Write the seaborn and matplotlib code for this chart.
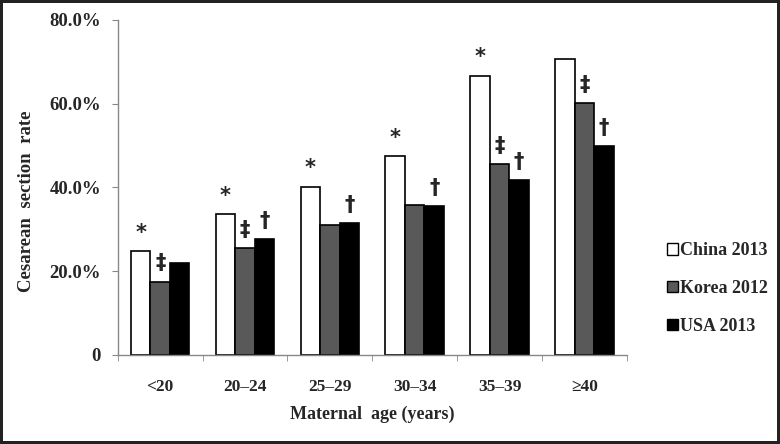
import pandas as pd
import matplotlib.pyplot as plt
import seaborn as sns
from matplotlib.ticker import FixedLocator

# data
age_groups = ['<20', '20–24', '25–29', '30–34', '35–39', '≥40']
series = ['China 2013', 'Korea 2012', 'USA 2013']
china = [24.8, 33.6, 40.2, 47.5, 66.7, 70.7]
korea = [17.5, 25.5, 31.0, 35.7, 45.6, 60.1]
usa = [22.0, 27.7, 31.5, 35.6, 41.8, 49.8]

# significance marks above each bar
china_marks = ['*', '*', '*', '*', '*', '']
korea_marks = ['‡', '‡', '', '', '‡', '‡']
usa_marks = ['', '†', '†', '†', '†', '†']

df = pd.DataFrame({
    'age': age_groups * 3,
    'rate': china + korea + usa,
    'group': [s for s in series for _ in age_groups],
})

sns.set_style('white')
plt.rcParams['font.family'] = ['Liberation Serif', 'DejaVu Serif']
plt.rcParams['font.weight'] = 'bold'

fig = plt.figure(figsize=(7.8, 4.44), dpi=100)
fig.patch.set_edgecolor('#222222')
fig.patch.set_linewidth(3)
ax = fig.add_axes([0.151, 0.2005, 0.6526, 0.7545])

palette = {'China 2013': 'white', 'Korea 2012': '#595959', 'USA 2013': 'black'}
sns.barplot(data=df, x='age', y='rate', hue='group', order=age_groups,
            hue_order=series, palette=palette, width=0.69, gap=0,
            edgecolor='black', linewidth=1.2, saturation=1, ax=ax, legend=False)

# marks over the bars
for cont, marks in zip(ax.containers, [china_marks, korea_marks, usa_marks]):
    for bar, m in zip(cont, marks):
        if m:
            cx = bar.get_x() + bar.get_width() / 2
            top = bar.get_height()
            ax.text(cx, top + 2.0, m, ha='center', va='bottom',
                    fontsize=15, fontweight='bold', family=['DejaVu Sans'])

ax.set_ylim(0, 80)
ax.set_xlim(-0.5, 5.5)
ax.set_yticks([0, 20, 40, 60, 80])
ax.set_yticklabels(['0', '20.0%', '40.0%', '60.0%', '80.0%'], fontsize=13.5, fontweight='bold')
ax.set_xticklabels(age_groups, fontsize=12.5, fontweight='bold')
ax.xaxis.set_minor_locator(FixedLocator([i - 0.5 for i in range(7)]))
ax.tick_params(axis='x', which='major', length=0, pad=17)
ax.tick_params(axis='x', which='minor', length=4, color='#888888', direction='out', bottom=True)
ax.tick_params(axis='y', length=4, color='#888888', direction='out', left=True, pad=8)

for s in ['top', 'right']:
    ax.spines[s].set_visible(False)
for s in ['left', 'bottom']:
    ax.spines[s].set_color('#888888')
    ax.spines[s].set_linewidth(1)

ax.set_xlabel('Maternal  age (years)', fontsize=13, fontweight='bold', labelpad=8)
ax.set_ylabel('Cesarean  section  rate', fontsize=13.5, fontweight='bold')
ax.yaxis.set_label_coords(-0.163, 0.46)

handles = [plt.Rectangle((0, 0), 1, 1, facecolor=palette[s], edgecolor='black', linewidth=1)
           for s in series]
fig.legend(handles, series, loc='center left', bbox_to_anchor=(0.834, 0.35),
           frameon=False, handlelength=0.6, handleheight=0.6, handletextpad=0.15,
           labelspacing=1.15, prop={'size': 13, 'weight': 'bold'})

fig.savefig('out.png', dpi=100)
